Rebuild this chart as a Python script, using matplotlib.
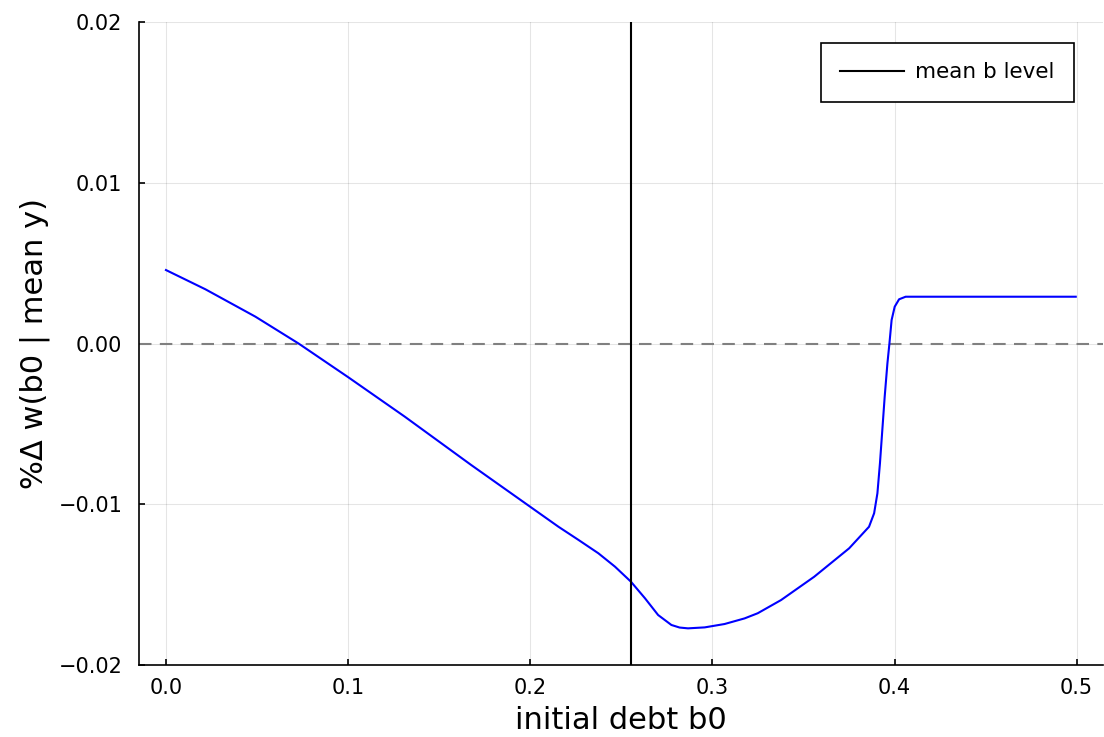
import matplotlib
matplotlib.use("Agg")
import matplotlib.pyplot as plt

# data
b0 = [0.0, 0.0217, 0.0491, 0.0728, 0.1001, 0.1311, 0.1676, 0.2004, 0.2155,
      0.2265, 0.2374, 0.2465, 0.2553, 0.2630, 0.2702, 0.2775, 0.2820, 0.2866,
      0.2958, 0.3067, 0.3177, 0.3249, 0.3377, 0.3559, 0.3751, 0.3860, 0.3888,
      0.3906, 0.3920, 0.3933, 0.3946, 0.3961, 0.3972, 0.3984, 0.4001, 0.4025,
      0.4061, 0.4180, 0.4500, 0.4995]
dw = [0.00457, 0.00337, 0.00167, 0.0, -0.0021, -0.00455, -0.00756, -0.01019,
      -0.0114, -0.01222, -0.01305, -0.01388, -0.01482, -0.01585, -0.01689,
      -0.01751, -0.01767, -0.01772, -0.01766, -0.01745, -0.0171, -0.01678,
      -0.01596, -0.01451, -0.01274, -0.0114, -0.01056, -0.00932, -0.00745,
      -0.00538, -0.00331, -0.00123, 0.0, 0.00146, 0.00229, 0.00275, 0.00291,
      0.00291, 0.00291, 0.00291]
mean_b = 0.2553
xticks = [0.0, 0.1, 0.2, 0.3, 0.4, 0.5]
yticks = [-0.02, -0.01, 0.0, 0.01, 0.02]
ytick_labels = ["\u22120.02", "\u22120.01", "0.00", "0.01", "0.02"]

W, H = 1104, 737
fig = plt.figure(figsize=(W/100, H/100), dpi=100)
ax = fig.add_axes([139/W, 1-665/H, 1-139/W-0.001, (665-22)/H])

ax.plot(b0, dw, color="#0000ff", lw=1.5, zorder=3)
ax.axhline(0.0, color="#808080", lw=1.5, ls=(0, (6, 4)), zorder=2)
ax.axvline(mean_b, color="black", lw=1.5, label="mean b level", zorder=4)

ax.set_xlim(-0.0148, 0.5144)
ax.set_ylim(-0.02, 0.02)
ax.set_xticks(xticks)
ax.set_xticklabels([f"{v:.1f}" for v in xticks])
ax.set_yticks(yticks)
ax.set_yticklabels(ytick_labels)
ax.tick_params(direction="in", length=4, width=1.2, labelsize=15)
ax.tick_params(axis="y", pad=12)
ax.tick_params(axis="x", pad=9)
ax.grid(True, color="black", alpha=0.1, lw=0.8)
ax.spines["top"].set_visible(False)
ax.spines["right"].set_visible(False)
ax.spines["left"].set_linewidth(1.2)
ax.spines["bottom"].set_linewidth(1.2)

ax.set_xlabel("initial debt b0", fontsize=22, labelpad=6)
ax.set_ylabel("%\u0394 w(b0 | mean y)", fontsize=22, labelpad=6)

leg = ax.legend(loc="upper right", bbox_to_anchor=(1074/W, 1-43/H),
                bbox_transform=fig.transFigure, borderaxespad=0,
                fontsize=15.5, handlelength=3.0, handletextpad=0.5,
                frameon=True, fancybox=False, borderpad=0.9,
                edgecolor="black", framealpha=1)
leg.get_frame().set_linewidth(1.2)

fig.savefig("out.png", dpi=100)
